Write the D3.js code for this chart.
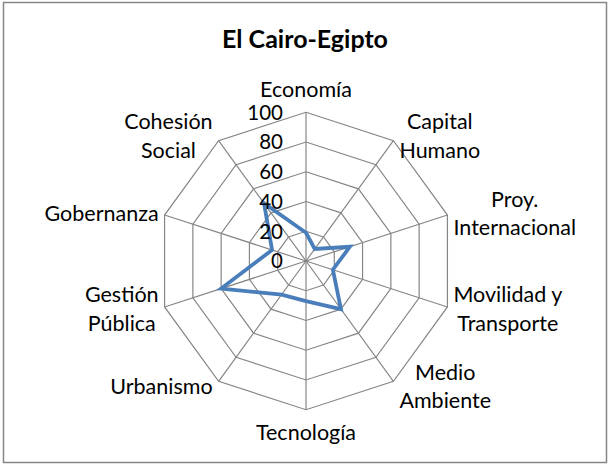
<!DOCTYPE html>
<html>
<head>
<meta charset="utf-8">
<script src="https://cdn.jsdelivr.net/npm/d3@7"></script>
<style>
  body { margin: 0; background: #fff; }
  svg text { font-family: Lato, "Open Sans", sans-serif; fill: #000; }
</style>
</head>
<body>
<svg id="chart" width="610" height="465"></svg>
<script>
const title = 'El Cairo-Egipto'
const categories = [
  ['Economía'], ['Capital', 'Humano'], ['Proy.', 'Internacional'],
  ['Movilidad y', 'Transporte'], ['Medio', 'Ambiente'], ['Tecnología'],
  ['Urbanismo'], ['Gestión', 'Pública'], ['Gobernanza'], ['Cohesión', 'Social']
]
const values = [19, 10, 31, 19, 40, 27, 28, 60, 24, 48]
const ticks = [0, 20, 40, 60, 80, 100]

const svg = d3.select('#chart')
const cx = 306, cy = 261
const radius = 148.7
const lineH = 28.5

svg.append('rect')
  .attr('x', 3.5).attr('y', 2.5)
  .attr('width', 603).attr('height', 460)
  .attr('fill', '#fff')
  .attr('stroke', '#868686')
  .attr('stroke-width', 1.5)

svg.append('text')
  .attr('x', 305).attr('y', 48)
  .attr('text-anchor', 'middle')
  .attr('font-size', 25)
  .attr('font-weight', 'bold')
  .text(title)

const r = d3.scaleLinear().domain([0, 100]).range([0, radius])
const angle = d3.scaleLinear().domain([0, categories.length]).range([0, 2 * Math.PI])

const chart = svg.append('g').attr('transform', `translate(${cx}, ${cy})`)

// rings
const ring = d3.lineRadial()
  .angle((d, i) => angle(i))
  .radius(d => r(d))
  .curve(d3.curveLinearClosed)

chart.selectAll('.ring')
  .data(ticks.slice(1))
  .enter()
  .append('path')
  .attr('class', 'ring')
  .attr('d', t => ring(categories.map(() => t)))
  .attr('fill', 'none')
  .attr('stroke', '#868686')
  .attr('stroke-width', 1.2)

// spokes
chart.selectAll('.spoke')
  .data(categories)
  .enter()
  .append('line')
  .attr('class', 'spoke')
  .attr('x1', 0).attr('y1', 0)
  .attr('x2', (d, i) => r(100) * Math.sin(angle(i)))
  .attr('y2', (d, i) => -r(100) * Math.cos(angle(i)))
  .attr('stroke', '#868686')
  .attr('stroke-width', 1.2)

// series
chart.append('path')
  .attr('d', ring(values))
  .attr('fill', 'none')
  .attr('stroke', '#4a7ebb')
  .attr('stroke-width', 3.8)
  .attr('stroke-linejoin', 'miter')

// tick labels
chart.selectAll('.tick')
  .data(ticks)
  .enter()
  .append('text')
  .attr('class', 'tick')
  .attr('x', -23)
  .attr('y', t => -r(t))
  .attr('dy', '0.36em')
  .attr('text-anchor', 'end')
  .attr('font-size', 20.5)
  .text(t => t)

// category labels
categories.forEach((lines, i) => {
  const a = angle(i)
  const s = Math.sin(a), c = Math.cos(a)
  const vx = r(100) * s, vy = -r(100) * c
  const g = chart.append('g')
  const txt = lines.map((l, j) => g.append('text')
    .attr('text-anchor', 'middle')
    .attr('font-size', 21.5)
    .attr('y', (j - (lines.length - 1) / 2) * lineH)
    .attr('dy', '0.36em')
    .text(l))
  const w = d3.max(txt, t => t.node().getComputedTextLength())
  let x = vx
  if (s > 0.01) x = vx + 6 + w / 2
  else if (s < -0.01) x = vx - 6 - w / 2
  let y = vy - 6 * c
  if (Math.abs(s) < 0.01) y = vy - 23 * c
  g.attr('transform', `translate(${x}, ${y})`)
})
</script>
</body>
</html>
